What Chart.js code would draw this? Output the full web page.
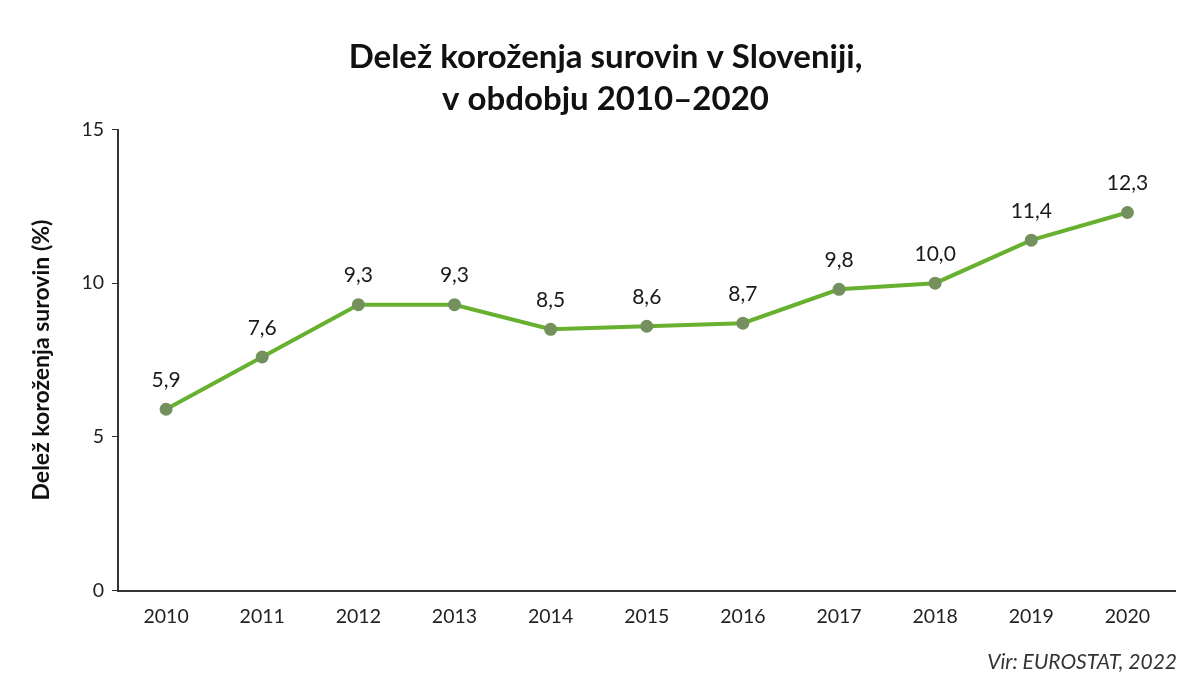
<!DOCTYPE html>
<html>
<head>
<meta charset="utf-8">
<script src="https://cdn.jsdelivr.net/npm/chart.js@4/dist/chart.umd.min.js"></script>
<style>
  html, body { margin: 0; padding: 0; background: #fff; }
  #wrap { width: 1184px; height: 682px; position: relative; }
</style>
</head>
<body>
<div id="wrap"><canvas id="graf"></canvas></div>
<script>
// ---------- PODATKI ----------
const leta = ["2010", "2011", "2012", "2013", "2014", "2015", "2016", "2017", "2018", "2019", "2020"];
const delez = [5.9, 7.6, 9.3, 9.3, 8.5, 8.6, 8.7, 9.8, 10.0, 11.4, 12.3];
const yTicks = [0, 5, 10, 15];
const naslov = ["Delež koroženja surovin v Sloveniji,", "v obdobju 2010–2020"];
const yNaslov = "Delež koroženja surovin (%)";
const vir = "Vir: EUROSTAT, 2022";

const pisava = "Lato, 'Open Sans', sans-serif";
const fmt = v => v.toFixed(1).replace(".", ",");

// ---------- OZNAKE NAD TOČKAMI ----------
const oznake = {
  id: "oznake",
  afterDatasetsDraw(chart) {
    const ctx = chart.ctx;
    const meta = chart.getDatasetMeta(0);
    ctx.save();
    ctx.font = "21px " + pisava;
    ctx.fillStyle = "#1a1a1a";
    ctx.textAlign = "center";
    ctx.textBaseline = "middle";
    meta.data.forEach((pt, i) => {
      ctx.fillText(fmt(delez[i]), pt.x, pt.y - 29);
    });
    // vir
    ctx.font = "italic 21px " + pisava;
    ctx.textAlign = "right";
    ctx.textBaseline = "alphabetic";
    ctx.fillStyle = "#333";
    ctx.fillText(vir, 1177, 669);
    ctx.restore();
  }
};

// ---------- GRAF ----------
const ctx = document.getElementById("graf").getContext("2d");
new Chart(ctx, {
  type: "line",
  data: {
    labels: leta,
    datasets: [{
      data: delez,
      borderColor: "#68b02f",
      borderWidth: 4,
      pointRadius: 4.5,
      pointBackgroundColor: "#74905e",
      pointBorderColor: "#74905e",
      tension: 0,
      fill: false
    }]
  },
  options: {
    responsive: true,
    maintainAspectRatio: false,
    animation: false,
    layout: { padding: { left: 28, right: 1, top: 16, bottom: 48 } },
    plugins: {
      legend: { display: false },
      tooltip: { enabled: false },
      title: {
        display: true,
        text: naslov,
        color: "#111",
        font: { family: pisava, size: 33, weight: "bold", lineHeight: 1.25 },
        padding: { top: 21, bottom: 10 }
      }
    },
    scales: {
      x: {
        offset: true,
        grid: { display: false, drawOnChartArea: false, offset: true, tickLength: 8, tickColor: "#333" },
        border: { color: "#333", width: 2 },
        ticks: { color: "#222", font: { family: pisava, size: 19.5 }, padding: 6 }
      },
      y: {
        min: 0,
        max: 15,
        afterBuildTicks(scale) { scale.ticks = yTicks.map(v => ({ value: v })); },
        afterFit(scale) { scale.width = 90; },
        grid: { display: true, drawOnChartArea: false, tickLength: 6, tickColor: "#333" },
        border: { color: "#333", width: 2 },
        ticks: { color: "#222", font: { family: pisava, size: 19.5 }, padding: 8 },
        title: {
          display: true,
          text: yNaslov,
          color: "#111",
          font: { family: pisava, size: 23, weight: "bold" },
          padding: { top: 0, bottom: 4 }
        }
      }
    }
  },
  plugins: [oznake]
});
</script>
</body>
</html>
